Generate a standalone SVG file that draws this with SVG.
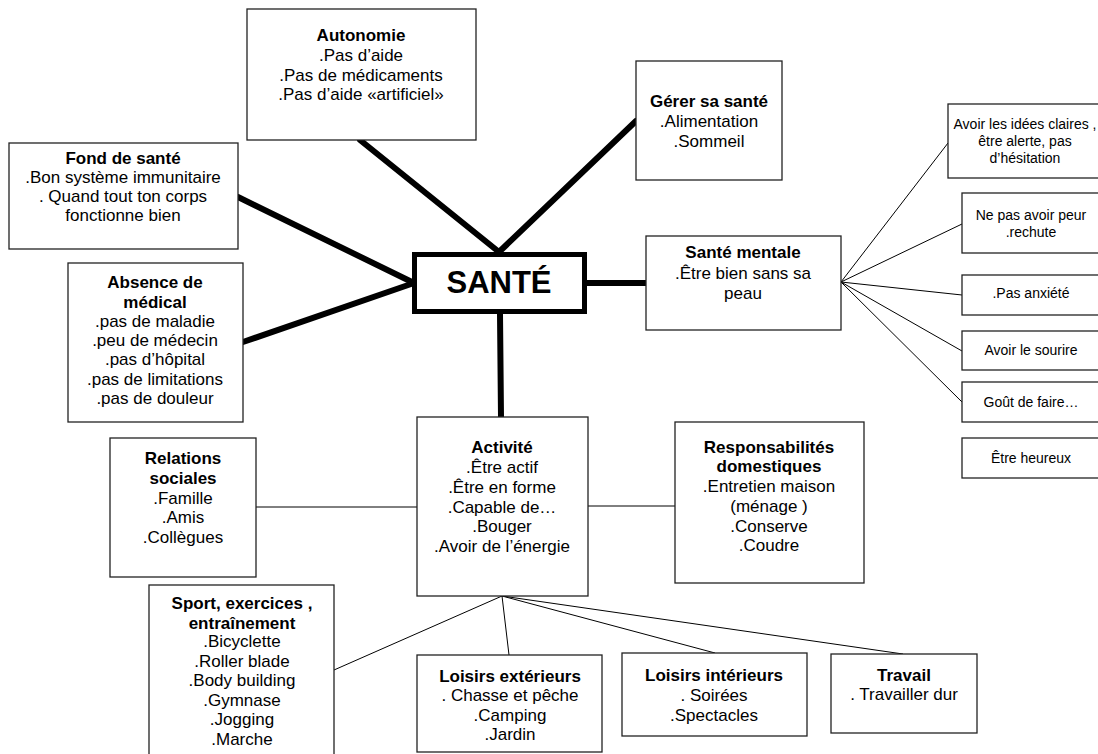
<svg xmlns="http://www.w3.org/2000/svg" width="1098" height="754" viewBox="0 0 1098 754">
  <style>
    .box { fill: #ffffff; stroke: #222222; stroke-width: 1.3; }
    .t { font-family: "Liberation Sans", Arial, sans-serif; font-size: 17px; fill: #000000; text-anchor: middle; }
    .b { font-weight: bold; }
    .s { font-size: 14px; }
    .thick { stroke: #000000; stroke-width: 6; stroke-linecap: round; fill: none; }
    .thin { stroke: #000000; stroke-width: 1; fill: none; }
  </style>
  <rect width="1098" height="754" fill="#ffffff"/>

  <!-- connectors -->
  <g id="connectors">
    <line class="thick" x1="360" y1="140" x2="499" y2="252"/>
    <line class="thick" x1="636" y1="121" x2="499" y2="252"/>
    <line class="thick" x1="238" y1="197" x2="414" y2="283"/>
    <line class="thick" x1="243" y1="342" x2="414" y2="283"/>
    <line class="thick" x1="587" y1="283" x2="646" y2="283"/>
    <line class="thick" x1="500" y1="314" x2="501" y2="417"/>

    <line class="thin" x1="841" y1="282" x2="948" y2="143"/>
    <line class="thin" x1="841" y1="282" x2="962" y2="224"/>
    <line class="thin" x1="841" y1="282" x2="962" y2="295"/>
    <line class="thin" x1="841" y1="282" x2="962" y2="351"/>
    <line class="thin" x1="841" y1="282" x2="962" y2="402"/>

    <line class="thin" x1="256" y1="507" x2="417" y2="507"/>
    <line class="thin" x1="588" y1="506" x2="675" y2="506"/>

    <line class="thin" x1="502" y1="596" x2="334" y2="670"/>
    <line class="thin" x1="502" y1="596" x2="509" y2="655"/>
    <line class="thin" x1="502" y1="596" x2="715" y2="653"/>
    <line class="thin" x1="502" y1="596" x2="903" y2="654"/>
  </g>

  <!-- central node -->
  <g id="sante">
    <rect x="414.5" y="254.5" width="170" height="57" fill="#ffffff" stroke="#000000" stroke-width="5"/>
    <text class="t b" x="499" y="293" style="font-size:31px">SANTÉ</text>
  </g>

  <g id="autonomie">
    <rect class="box" x="247" y="9" width="229" height="131"/>
    <text class="t b" x="361" y="41">Autonomie</text>
    <text class="t" x="361" y="61">.Pas d’aide</text>
    <text class="t" x="361" y="81">.Pas de médicaments</text>
    <text class="t" x="361" y="100">.Pas d’aide «artificiel»</text>
  </g>

  <g id="gerer">
    <rect class="box" x="636" y="61" width="146" height="119"/>
    <text class="t b" x="709" y="107">Gérer sa santé</text>
    <text class="t" x="709" y="127">.Alimentation</text>
    <text class="t" x="709" y="147">.Sommeil</text>
  </g>

  <g id="fond">
    <rect class="box" x="9" y="143" width="229" height="106"/>
    <text class="t b" x="123" y="164">Fond de santé</text>
    <text class="t" x="123" y="183">.Bon système immunitaire</text>
    <text class="t" x="123" y="202">. Quand tout ton corps</text>
    <text class="t" x="123" y="221">fonctionne bien</text>
  </g>

  <g id="absence">
    <rect class="box" x="68" y="263" width="175" height="159"/>
    <text class="t b" x="155" y="288">Absence de</text>
    <text class="t b" x="155" y="308">médical</text>
    <text class="t" x="155" y="327">.pas de maladie</text>
    <text class="t" x="155" y="346">.peu de médecin</text>
    <text class="t" x="155" y="365">.pas d’hôpital</text>
    <text class="t" x="155" y="385">.pas de limitations</text>
    <text class="t" x="155" y="404">.pas de douleur</text>
  </g>

  <g id="mentale">
    <rect class="box" x="646" y="236" width="195" height="94"/>
    <text class="t b" x="743" y="258">Santé mentale</text>
    <text class="t" x="743" y="279">.Être bien sans sa</text>
    <text class="t" x="743" y="299">peau</text>
  </g>

  <g id="idees">
    <rect class="box" x="948" y="104" width="154" height="74"/>
    <text class="t s" x="1025" y="129">Avoir les idées claires ,</text>
    <text class="t s" x="1025" y="146">être alerte, pas</text>
    <text class="t s" x="1025" y="163">d’hésitation</text>
  </g>

  <g id="peur">
    <rect class="box" x="962" y="193" width="140" height="60"/>
    <text class="t s" x="1031" y="220">Ne pas avoir peur</text>
    <text class="t s" x="1031" y="237">.rechute</text>
  </g>

  <g id="anxiete">
    <rect class="box" x="962" y="275" width="140" height="40"/>
    <text class="t s" x="1031" y="298">.Pas anxiété</text>
  </g>

  <g id="sourire">
    <rect class="box" x="962" y="331" width="140" height="39"/>
    <text class="t s" x="1031" y="355">Avoir le sourire</text>
  </g>

  <g id="gout">
    <rect class="box" x="962" y="382" width="140" height="40"/>
    <text class="t s" x="1031" y="407">Goût de faire…</text>
  </g>

  <g id="heureux">
    <rect class="box" x="962" y="438" width="140" height="40"/>
    <text class="t s" x="1031" y="463">Être heureux</text>
  </g>

  <g id="relations">
    <rect class="box" x="110" y="438" width="146" height="139"/>
    <text class="t b" x="183" y="464">Relations</text>
    <text class="t b" x="183" y="484">sociales</text>
    <text class="t" x="183" y="504">.Famille</text>
    <text class="t" x="183" y="523">.Amis</text>
    <text class="t" x="183" y="543">.Collègues</text>
  </g>

  <g id="activite">
    <rect class="box" x="417" y="417" width="171" height="179"/>
    <text class="t b" x="502" y="453">Activité</text>
    <text class="t" x="502" y="473">.Être actif</text>
    <text class="t" x="502" y="493">.Être en forme</text>
    <text class="t" x="502" y="513">.Capable de…</text>
    <text class="t" x="502" y="532">.Bouger</text>
    <text class="t" x="502" y="552">.Avoir de l’énergie</text>
  </g>

  <g id="responsabilites">
    <rect class="box" x="675" y="422" width="189" height="161"/>
    <text class="t b" x="769" y="453">Responsabilités</text>
    <text class="t b" x="769" y="472">domestiques</text>
    <text class="t" x="769" y="492">.Entretien maison</text>
    <text class="t" x="769" y="512">(ménage )</text>
    <text class="t" x="769" y="532">.Conserve</text>
    <text class="t" x="769" y="551">.Coudre</text>
  </g>

  <g id="sport">
    <rect class="box" x="149" y="585" width="185" height="180"/>
    <text class="t b" x="242" y="609">Sport, exercices ,</text>
    <text class="t b" x="242" y="629">entraînement</text>
    <text class="t" x="242" y="647">.Bicyclette</text>
    <text class="t" x="242" y="667">.Roller blade</text>
    <text class="t" x="242" y="686">.Body building</text>
    <text class="t" x="242" y="706">.Gymnase</text>
    <text class="t" x="242" y="725">.Jogging</text>
    <text class="t" x="242" y="745">.Marche</text>
  </g>

  <g id="loisirs-ext">
    <rect class="box" x="417" y="655" width="185" height="97"/>
    <text class="t b" x="510" y="682">Loisirs extérieurs</text>
    <text class="t" x="510" y="701">. Chasse et pêche</text>
    <text class="t" x="510" y="721">.Camping</text>
    <text class="t" x="510" y="740">.Jardin</text>
  </g>

  <g id="loisirs-int">
    <rect class="box" x="622" y="653" width="185" height="83"/>
    <text class="t b" x="714" y="681">Loisirs intérieurs</text>
    <text class="t" x="714" y="701">. Soirées</text>
    <text class="t" x="714" y="721">.Spectacles</text>
  </g>

  <g id="travail">
    <rect class="box" x="831" y="654" width="146" height="79"/>
    <text class="t b" x="904" y="681">Travail</text>
    <text class="t" x="904" y="700">. Travailler dur</text>
  </g>
</svg>
